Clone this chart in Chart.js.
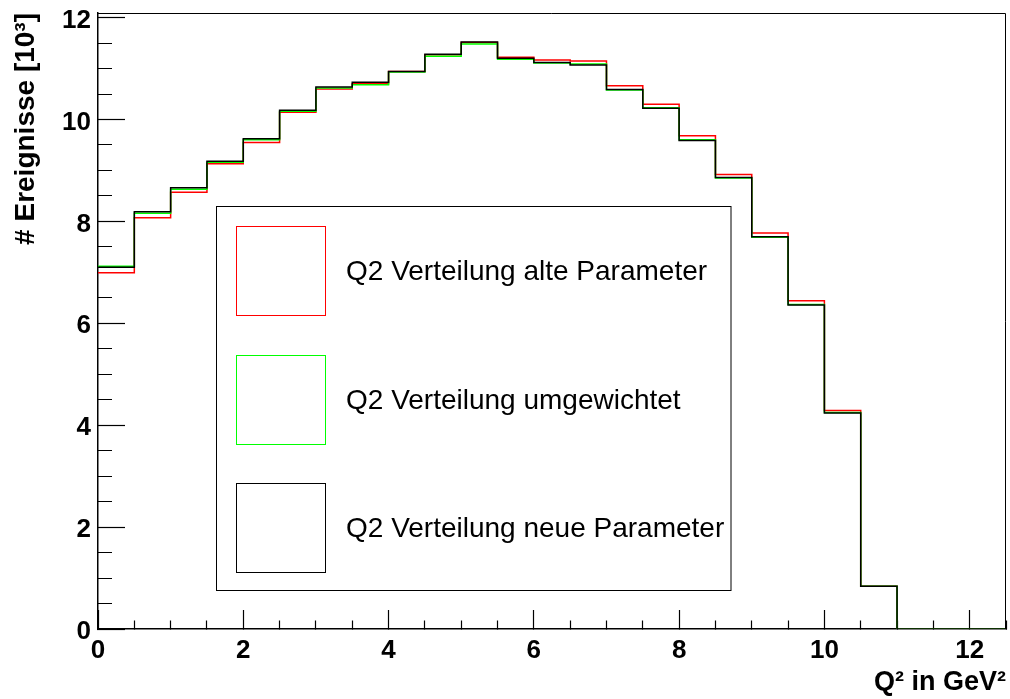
<!DOCTYPE html>
<html lang="de">
<head>
<meta charset="utf-8">
<title>Q2 Verteilung</title>
<script src="https://cdn.jsdelivr.net/npm/chart.js@4.4.1/dist/chart.umd.min.js"></script>
<style>
  html, body { margin: 0; padding: 0; background: #fff; }
  canvas { display: block; }
</style>
</head>
<body>
<canvas id="q2" width="1010" height="699"></canvas>
<script>
// untere Bin-Kanten in GeV^2 (Binbreite 0.5)
const binKanten = [0, 0.5, 1, 1.5, 2, 2.5, 3, 3.5, 4, 4.5, 5, 5.5, 6, 6.5, 7, 7.5, 8, 8.5, 9, 9.5, 10, 10.5, 11, 11.5, 12];
const xMax = 12.5;
const yMax = 12.09;

// Ereignisse pro Bin in 10^3
const alteParameter = [6.99, 8.07, 8.57, 9.13, 9.55, 10.14, 10.60, 10.70, 10.94, 11.27, 11.51, 11.22, 11.17, 11.15, 10.66, 10.30, 9.68, 8.92, 7.77, 6.44, 4.29, 0.84, 0, 0, 0];
const umgewichtet   = [7.12, 8.16, 8.63, 9.16, 9.60, 10.16, 10.62, 10.68, 10.93, 11.24, 11.48, 11.18, 11.11, 11.09, 10.58, 10.23, 9.60, 8.85, 7.69, 6.37, 4.25, 0.84, 0, 0, 0];
const neueParameter = [7.10, 8.19, 8.66, 9.18, 9.62, 10.18, 10.64, 10.73, 10.94, 11.28, 11.52, 11.20, 11.12, 11.07, 10.59, 10.22, 9.59, 8.86, 7.70, 6.36, 4.24, 0.84, 0, 0, 0];

const namen = ['Q2 Verteilung alte Parameter', 'Q2 Verteilung umgewichtet', 'Q2 Verteilung neue Parameter'];
const farben = ['#ff0000', '#00ff00', '#000000'];

Chart.defaults.font.family = '"Liberation Sans", Arial, Helvetica, sans-serif';
Chart.defaults.color = '#000';

// Histogramm als Stufenlinie: ein Punkt je linker Bin-Kante, plus rechter Rand
function histoPunkte(werte) {
  const pts = binKanten.map((x, i) => ({ x: x, y: werte[i] }));
  pts.push({ x: xMax, y: werte[werte.length - 1] });
  return pts;
}

function istHaupt(v) {
  return Math.abs(v / 2 - Math.round(v / 2)) < 1e-6;
}

// feste Achsenbreite, keine automatische Randpolsterung
function festeGroesse(s, breite, hoehe) {
  if (breite) s.width = breite;
  if (hoehe) s.height = hoehe;
  s.paddingTop = 0;
  s.paddingBottom = 0;
  s.paddingLeft = 0;
  s.paddingRight = 0;
}

// Rahmen oben/rechts und Legende im ROOT-Stil
const rahmenPlugin = {
  id: 'rahmen',
  afterDraw(chart) {
    const { ctx, chartArea: a } = chart;
    ctx.save();
    ctx.strokeStyle = '#000';
    ctx.lineWidth = 1;
    ctx.beginPath();
    ctx.moveTo(a.left, a.top + 0.5);
    ctx.lineTo(a.right - 0.5, a.top + 0.5);
    ctx.lineTo(a.right - 0.5, a.bottom);
    ctx.stroke();

    // Legendenkasten
    ctx.strokeRect(216.5, 206.5, 514.5, 384);
    ctx.font = '28px "Liberation Sans", Arial, sans-serif';
    ctx.textAlign = 'left';
    ctx.textBaseline = 'middle';
    const oben = [226.5, 355.5, 483.5];
    chart.data.datasets.forEach((ds, i) => {
      ctx.strokeStyle = ds.borderColor;
      ctx.strokeRect(236.5, oben[i], 89, 89);
      ctx.fillStyle = '#000';
      ctx.fillText(ds.label, 346, oben[i] + 46);
    });
    ctx.restore();
  }
};

new Chart(document.getElementById('q2'), {
  type: 'line',
  data: {
    datasets: [alteParameter, umgewichtet, neueParameter].map((werte, i) => ({
      label: namen[i],
      data: histoPunkte(werte),
      borderColor: farben[i],
      backgroundColor: farben[i],
      borderWidth: 1.5,
      stepped: 'before',
      pointRadius: 0,
      fill: false,
      order: 3 - i,
    })),
  },
  options: {
    responsive: false,
    animation: false,
    events: [],
    layout: { autoPadding: false, padding: { left: 0, top: 13, right: 4, bottom: 0 } },
    plugins: {
      legend: { display: false },
      tooltip: { enabled: false },
    },
    scales: {
      x: {
        type: 'linear',
        min: 0,
        max: xMax,
        afterFit: (s) => festeGroesse(s, 0, 70),
        border: { display: true, color: '#000', width: 1.5 },
        grid: {
          drawOnChartArea: false,
          drawTicks: true,
          tickLength: -19,
          tickColor: '#000',
          tickWidth: 1.2,
          tickBorderDash: (c) => (c.tick && istHaupt(c.tick.value) ? [] : [9, 100]),
        },
        ticks: {
          stepSize: 0.5,
          autoSkip: false,
          maxRotation: 0,
          includeBounds: false,
          padding: 25,
          font: { size: 26, weight: 'bold' },
          callback: (v) => (istHaupt(v) ? Math.round(v) : ''),
        },
        title: {
          display: true,
          text: 'Q² in GeV²',
          align: 'end',
          font: { size: 27, weight: 'bold' },
          padding: { top: 0, bottom: 0 },
        },
      },
      y: {
        type: 'linear',
        min: 0,
        max: yMax,
        afterFit: (s) => festeGroesse(s, 98, 0),
        border: { display: true, color: '#000', width: 1.5 },
        grid: {
          drawOnChartArea: false,
          drawTicks: true,
          tickLength: -27,
          tickColor: '#000',
          tickWidth: 1.2,
          tickBorderDash: (c) => (c.tick && istHaupt(c.tick.value) ? [] : [0, 13, 14, 100]),
        },
        ticks: {
          stepSize: 0.5,
          autoSkip: false,
          includeBounds: false,
          padding: 34,
          labelOffset: 3,
          font: { size: 26, weight: 'bold' },
          callback: (v) => (istHaupt(v) ? Math.round(v) : ''),
        },
        title: {
          display: true,
          text: '# Ereignisse [10³]',
          align: 'end',
          font: { size: 28, weight: 'bold' },
          padding: { top: 9, bottom: 0 },
        },
      },
    },
  },
  plugins: [rahmenPlugin],
});
</script>
</body>
</html>
